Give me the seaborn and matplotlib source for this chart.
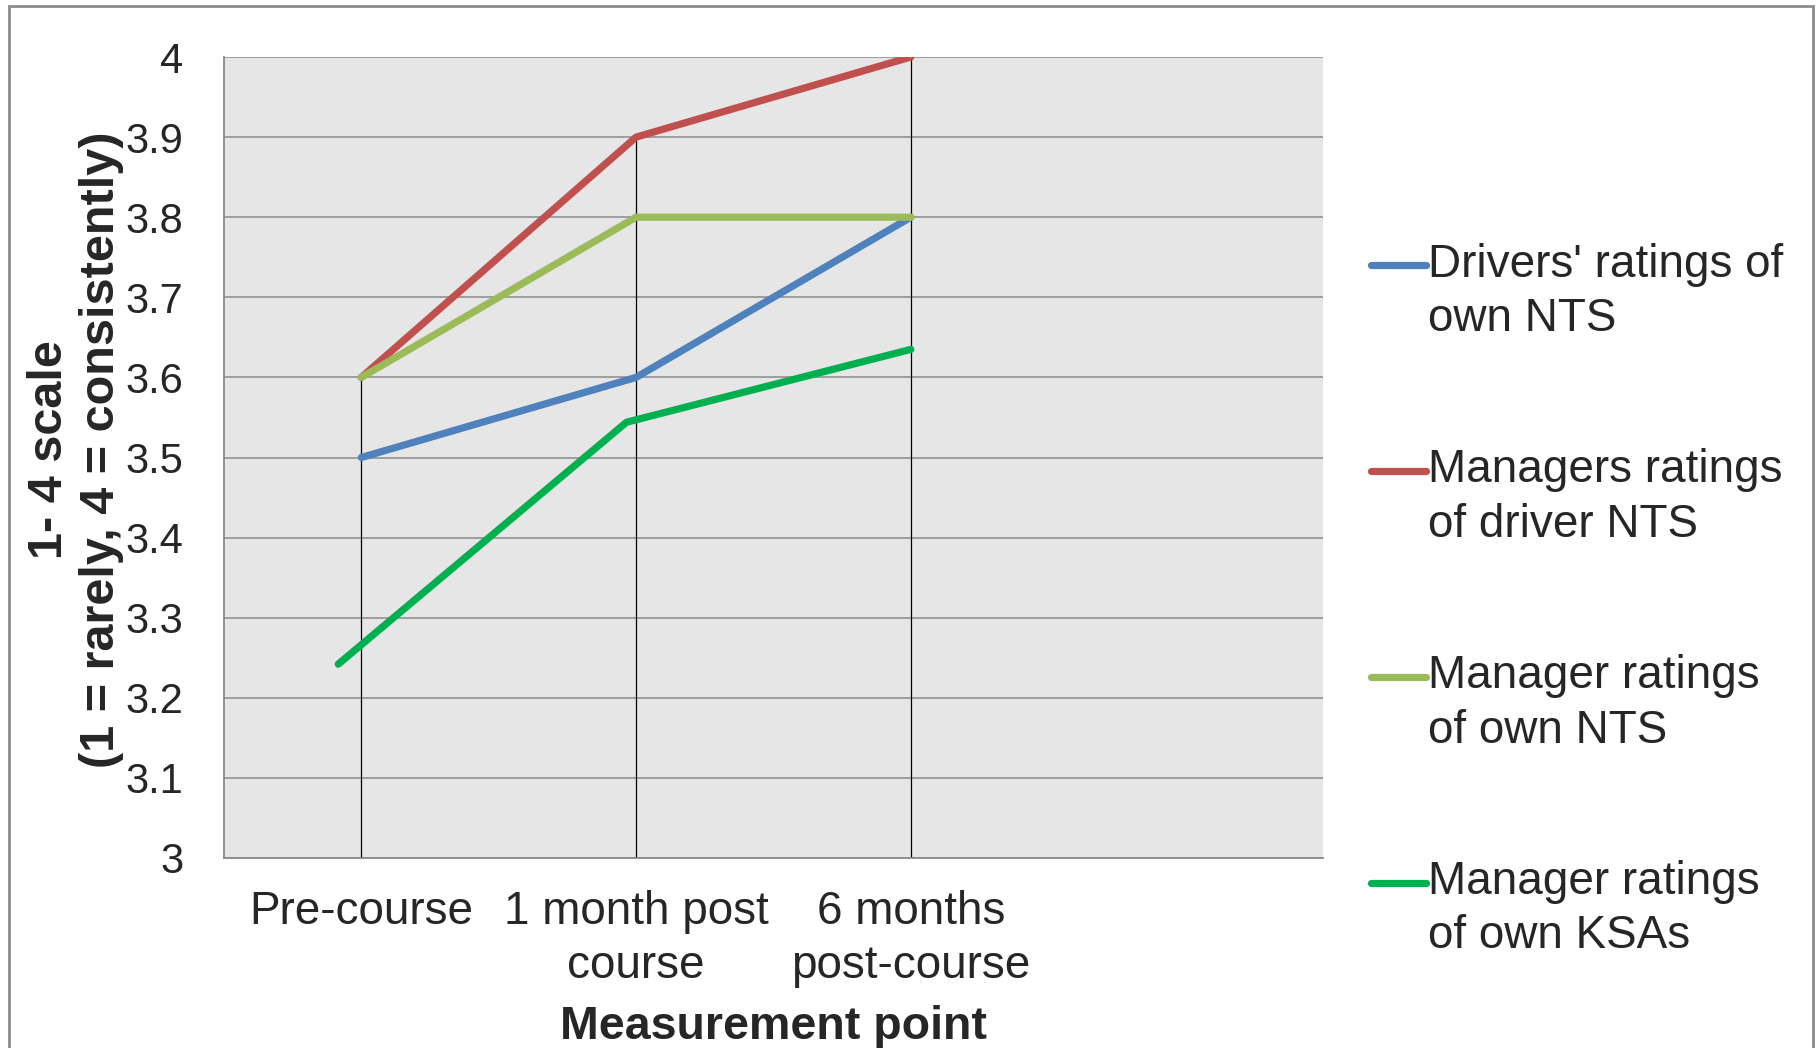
import numpy as np
import pandas as pd
import seaborn as sns
import matplotlib.pyplot as plt
from matplotlib.patches import Rectangle
from matplotlib.legend_handler import HandlerLine2D

categories = ['Pre-course', '1 month post\ncourse', '6 months\npost-course']
series_names = ["Drivers' ratings of\nown NTS", "Managers ratings\nof driver NTS",
                "Manager ratings\nof own NTS", "Manager ratings\nof own KSAs"]
drivers_own = [3.5, 3.6, 3.8]
managers_driver = [3.6, 3.9, 4.0]
managers_own_nts = [3.6, 3.8, 3.8]
managers_own_ksa = [3.242, 3.544, 3.635]
# the KSA series sits a little off the category positions in the original
ksa_x = [-0.084, 0.965, 2.0]
colors = ['#4F81BD', '#C0504D', '#9BBB59', '#00B050']

cat_x = [0, 1, 2]
rows = []
for name, xs, vals in zip(series_names,
                          [cat_x, cat_x, cat_x, ksa_x],
                          [drivers_own, managers_driver, managers_own_nts, managers_own_ksa]):
    for x, v in zip(xs, vals):
        rows.append({'x': x, 'value': v, 'series': name})
df = pd.DataFrame(rows)


class FirstLineHandler(HandlerLine2D):
    # put the legend line next to the first text line, like Excel does
    def create_artists(self, legend, orig_handle, xdescent, ydescent,
                       width, height, fontsize, trans):
        arts = super().create_artists(legend, orig_handle, xdescent, ydescent,
                                      width, height, fontsize, trans)
        for a in arts:
            a.set_ydata(np.asarray(a.get_ydata()) + 0.6 * fontsize)
        return arts


sns.set_style('white')
plt.rcParams['font.family'] = ['Liberation Sans', 'DejaVu Sans']

fig = plt.figure(figsize=(18.19, 10.48), dpi=100)
ax = fig.add_axes([0.1231, 0.1813, 0.6042, 0.7643])
ax.set_facecolor('#E6E6E6')

# drop lines from the highest value at each category
tops = np.max([drivers_own, managers_driver, managers_own_nts], axis=0)
ax.vlines(cat_x, 3.0, tops, color='black', lw=0.9, zorder=2)

sns.lineplot(data=df, x='x', y='value', hue='series', palette=colors,
             hue_order=series_names, sort=False, linewidth=5.2, ax=ax, zorder=3,
             legend=True)

ax.set_xlim(-0.5, 3.5)
ax.set_ylim(3.0, 4.0)
ax.set_yticks(np.arange(3.0, 4.01, 0.1))
ax.set_yticklabels(['3', '3.1', '3.2', '3.3', '3.4', '3.5', '3.6', '3.7', '3.8', '3.9', '4'])
ax.set_xticks(cat_x)
ax.set_xticklabels(categories, linespacing=1.3)
ax.yaxis.grid(True, color='#8a8a8a', lw=1.1)
ax.set_axisbelow(True)
ax.tick_params(axis='y', length=10, width=1.1, color='#8a8a8a', pad=19, labelsize=30)
ax.tick_params(axis='x', length=0, pad=23, labelsize=33)
for s in ['top', 'right']:
    ax.spines[s].set_visible(False)
for s in ['left', 'bottom']:
    ax.spines[s].set_color('#8a8a8a')
    ax.spines[s].set_linewidth(1.3)

ax.set_ylabel('1- 4 scale\n(1 = rarely, 4 = consistently)', fontsize=35, fontweight='bold',
              linespacing=1.2)
ax.yaxis.set_label_coords(-0.091, 0.51)
ax.set_xlabel('Measurement point', fontsize=33.5, fontweight='bold')
ax.xaxis.set_label_coords(0.5, -0.184)

handles, labels = ax.get_legend_handles_labels()
ax.get_legend().remove()
for h in handles:
    h.set_linewidth(5.2)
fig.legend(handles, labels, loc='center left', bbox_to_anchor=(0.7535, 0.427),
           frameon=False, fontsize=33, handlelength=1.2, handletextpad=0.05,
           labelspacing=2.35, borderpad=0, borderaxespad=0,
           handler_map={type(handles[0]): FirstLineHandler()},
           prop={'size': 33})

for t in fig.legends[0].get_texts():
    t.set_linespacing(1.3)

fig.patches.append(Rectangle((9 / 1819, -0.05), (1813 - 9) / 1819, 1.05 - 6 / 1048,
                             transform=fig.transFigure, fill=False,
                             edgecolor='#8c8c8c', lw=2))

fig.savefig('out.png', dpi=100)
